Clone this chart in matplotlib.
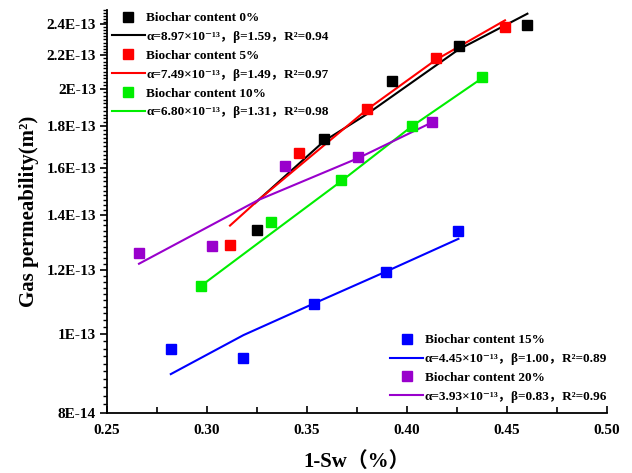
import matplotlib
matplotlib.use('Agg')
import matplotlib.pyplot as plt
from matplotlib.lines import Line2D
from matplotlib.ticker import FixedLocator, FixedFormatter, NullFormatter

FAM = ['Liberation Serif', 'Noto Sans CJK SC', 'DejaVu Serif']
plt.rcParams['font.family'] = FAM
plt.rcParams['font.weight'] = 'bold'

# ---- data ----
labels = ['Biochar content 0%', 'Biochar content 5%', 'Biochar content 10%',
          'Biochar content 15%', 'Biochar content 20%']
fit_labels = ['α=8.97×10⁻¹³，β=1.59，R²=0.94',
              'α=7.49×10⁻¹³，β=1.49，R²=0.97',
              'α=6.80×10⁻¹³，β=1.31，R²=0.98',
              'α=4.45×10⁻¹³，β=1.00，R²=0.89',
              'α=3.93×10⁻¹³，β=0.83，R²=0.96']
colors = ['#000000', '#ff0000', '#00ee00', '#0000ff', '#9900cc']

x0 = [0.325, 0.3585, 0.3924, 0.4262, 0.4599]
y0 = [1.342e-13, 1.734e-13, 2.043e-13, 2.256e-13, 2.399e-13]
x5 = [0.3114, 0.3459, 0.3802, 0.4144, 0.4489]
y5 = [1.286e-13, 1.669e-13, 1.888e-13, 2.185e-13, 2.383e-13]
x10 = [0.2969, 0.3322, 0.3670, 0.4024, 0.4374]
y10 = [1.146e-13, 1.371e-13, 1.545e-13, 1.800e-13, 2.066e-13]
x15 = [0.2820, 0.3180, 0.3534, 0.3895, 0.4254]
y15 = [9.58e-14, 9.35e-14, 1.089e-13, 1.192e-13, 1.339e-13]
x20 = [0.2659, 0.3025, 0.3390, 0.3757, 0.4127]
y20 = [1.256e-13, 1.281e-13, 1.607e-13, 1.649e-13, 1.821e-13]

# fitted curves
fx0 = [0.3240, 0.3587, 0.3799, 0.4257, 0.4602]
fy0 = [1.448e-13, 1.727e-13, 1.862e-13, 2.235e-13, 2.474e-13]
fx5 = [0.3115, 0.3257, 0.3799, 0.4145, 0.4490]
fy5 = [1.359e-13, 1.461e-13, 1.886e-13, 2.172e-13, 2.428e-13]
fx10 = [0.2970, 0.3324, 0.3670, 0.4024, 0.4377]
fy10 = [1.146e-13, 1.331e-13, 1.540e-13, 1.799e-13, 2.063e-13]
fx15 = [0.2819, 0.3182, 0.3537, 0.3894, 0.4257]
fy15 = [8.93e-14, 9.97e-14, 1.091e-13, 1.193e-13, 1.309e-13]
fx20 = [0.2660, 0.3257, 0.3757, 0.4124]
fy20 = [1.220e-13, 1.461e-13, 1.645e-13, 1.819e-13]

xticks = [0.25, 0.30, 0.35, 0.40, 0.45, 0.50]
xtick_labels = ['0.25', '0.30', '0.35', '0.40', '0.45', '0.50']
yticks = [8e-14, 1e-13, 1.2e-13, 1.4e-13, 1.6e-13, 1.8e-13, 2e-13, 2.2e-13, 2.4e-13]
ytick_labels = ['8E-14', '1E-13', '1.2E-13', '1.4E-13', '1.6E-13', '1.8E-13',
                '2E-13', '2.2E-13', '2.4E-13']

pts = [(x0, y0), (x5, y5), (x10, y10), (x15, y15), (x20, y20)]
fits = [(fx0, fy0), (fx5, fy5), (fx10, fy10), (fx15, fy15), (fx20, fy20)]

fig = plt.figure(figsize=(6.32, 4.73), dpi=100)
ax = fig.add_axes([107/632, 1-413/473, 500/632, 403/473])
ax.set_yscale('log')

for (px, py), (fx, fy), c in zip(pts, fits, colors):
    ax.plot(fx, fy, color=c, lw=1.5, zorder=2)
    ax.plot(px, py, ls='none', marker='s', ms=7.3, color=c, mec=c, zorder=3)

ax.set_xlim(0.25, 0.50)
ax.set_ylim(8e-14, 2.5e-13)

ax.xaxis.set_major_locator(FixedLocator(xticks))
ax.xaxis.set_major_formatter(FixedFormatter(xtick_labels))
ax.xaxis.set_minor_locator(FixedLocator([0.275, 0.325, 0.375, 0.425, 0.475]))
ax.yaxis.set_major_locator(FixedLocator(yticks))
ax.yaxis.set_major_formatter(FixedFormatter(ytick_labels))
minor_y = [v * 1e-15 for v in range(80, 251, 2) if v % 20 != 0]
ax.yaxis.set_minor_locator(FixedLocator(minor_y))
ax.yaxis.set_minor_formatter(NullFormatter())

ax.spines['top'].set_visible(False)
ax.spines['right'].set_visible(False)
for s in ['left', 'bottom']:
    ax.spines[s].set_linewidth(1.3)

ax.tick_params(axis='x', which='major', direction='in', length=5, width=1.2,
               labelsize=11, pad=8)
ax.tick_params(axis='x', which='minor', direction='in', length=4, width=1.2)
ax.tick_params(axis='y', which='major', direction='out', length=5, width=1.2,
               labelsize=11, pad=3)
ax.tick_params(axis='y', which='minor', direction='out', length=3, width=1.0)
for lab in ax.get_xticklabels() + ax.get_yticklabels():
    lab.set_fontweight('bold')

ax.set_xlabel('1-Sw（%）', fontsize=15, fontweight='bold', labelpad=11)
ax.set_ylabel('Gas permeability(m²)', fontsize=15, fontweight='bold', labelpad=5)

def handles(idx):
    h, l = [], []
    for i in idx:
        h.append(Line2D([], [], ls='none', marker='s', ms=7.3, color=colors[i]))
        l.append(labels[i])
        h.append(Line2D([], [], color=colors[i], lw=1.5))
        l.append(fit_labels[i])
    return h, l

lp = dict(family=FAM, weight='bold', size=9.5)
h1, l1 = handles([0, 1, 2])
leg1 = ax.legend(h1, l1, loc='upper left', bbox_to_anchor=(0.01, 0.995),
                 frameon=False, prop=lp, handlelength=2.5, handletextpad=0.1,
                 borderpad=0, borderaxespad=0, labelspacing=0.5)
ax.add_artist(leg1)
h2, l2 = handles([3, 4])
ax.legend(h2, l2, loc='lower right', bbox_to_anchor=(1.0, 0.025),
          frameon=False, prop=lp, handlelength=2.5, handletextpad=0.1,
          borderpad=0, borderaxespad=0, labelspacing=0.5)

fig.savefig('out.png', dpi=100)
